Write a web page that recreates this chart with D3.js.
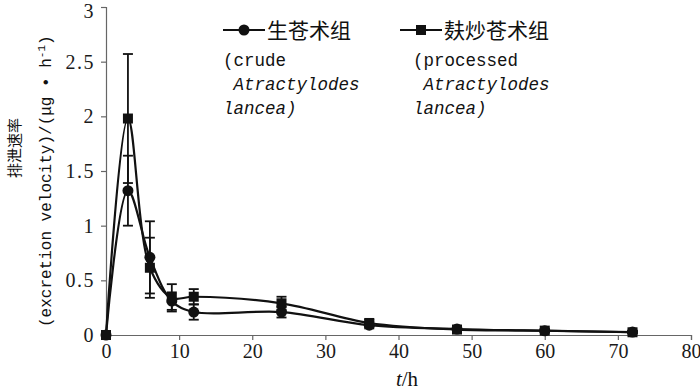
<!DOCTYPE html>
<html>
<head>
<meta charset="utf-8">
<script src="https://cdn.jsdelivr.net/npm/d3@7"></script>
<style>
  body { margin: 0; background: #fff; }
  svg { display: block; }
</style>
</head>
<body>
<script>
// sampling times (h)
const times = [0, 3, 6, 9, 12, 24, 36, 48, 60, 72];
// crude Atractylodes lancea group
const crude = [0, 1.32, 0.71, 0.31, 0.21, 0.21, 0.09, 0.055, 0.039, 0.027];
const crudeErr = [0, 0.32, 0.33, 0.08, 0.07, 0.05, 0.03, 0.01, 0.01, 0.01];
// bran-fried (processed) group
const processed = [0, 1.98, 0.615, 0.34, 0.35, 0.29, 0.11, 0.05, 0.04, 0.025];
const processedErr = [0, 0.59, 0.275, 0.125, 0.07, 0.06, 0.03, 0.01, 0.01, 0.01];

const xTicks = [0, 10, 20, 30, 40, 50, 60, 70, 80];
const yTicks = [0, 0.5, 1, 1.5, 2, 2.5, 3];

const W = 700, H = 391;
const margin = {top: 7, right: 9, bottom: 56, left: 106};
const width = W - margin.left - margin.right,
      height = H - margin.top - margin.bottom;

const svg = d3.select("body").append("svg")
  .attr("width", W)
  .attr("height", H);

const g = svg.append("g")
  .attr("transform", "translate(" + margin.left + "," + margin.top + ")");

const x = d3.scaleLinear().domain([0, 80]).range([0, width]);
const y = d3.scaleLinear().domain([0, 3]).range([height, 0]);

const ink = "#111";
const serif = "'Liberation Serif', 'DejaVu Serif', serif";
const mono = "'Liberation Mono', 'DejaVu Sans Mono', monospace";
const cjk = "'Noto Sans CJK SC', sans-serif";

// axes
const xAxis = g.append("g")
  .attr("transform", "translate(0," + height + ")")
  .call(d3.axisBottom(x).tickValues(xTicks).tickSize(5).tickPadding(4).tickFormat(d3.format("d")));
const yAxis = g.append("g")
  .call(d3.axisLeft(y).tickValues(yTicks).tickSize(5).tickPadding(6).tickFormat(d => String(d)));

[xAxis, yAxis].forEach(a => {
  a.select(".domain").attr("stroke", "#666").attr("stroke-width", 1.2);
  a.selectAll(".tick line").attr("stroke", "#666").attr("stroke-width", 1.2);
  a.selectAll("text").attr("fill", "#1a1a1a").style("font-family", serif).style("font-size", "20px");
});
yAxis.selectAll("text").style("letter-spacing", "1.5px");
// keep the top label inside the picture
yAxis.selectAll(".tick").filter(d => d === 3).select("text").attr("dy", "0.5em");

// series
const series = [
  {name: "生苍术组", sub: ["(crude", " Atractylodes", "lancea)"], values: crude, err: crudeErr, shape: "circle"},
  {name: "麸炒苍术组", sub: ["(processed", " Atractylodes", "lancea)"], values: processed, err: processedErr, shape: "square"}
];

const line = d3.line()
  .x(d => x(d.t))
  .y(d => y(d.v))
  .curve(d3.curveCatmullRom.alpha(0.5));

series.forEach(s => {
  const pts = times.map((t, i) => ({t: t, v: s.values[i], e: s.err[i]}));

  g.append("path")
    .datum(pts)
    .attr("fill", "none")
    .attr("stroke", ink)
    .attr("stroke-width", 2.2)
    .attr("d", line);

  const eb = g.append("g").selectAll("g")
    .data(pts.filter(d => d.e > 0))
    .enter().append("g");
  eb.append("line")
    .attr("x1", d => x(d.t)).attr("x2", d => x(d.t))
    .attr("y1", d => y(d.v + d.e)).attr("y2", d => y(d.v - d.e))
    .attr("stroke", ink).attr("stroke-width", 1.8);
  eb.append("line")
    .attr("x1", d => x(d.t) - 5).attr("x2", d => x(d.t) + 5)
    .attr("y1", d => y(d.v + d.e)).attr("y2", d => y(d.v + d.e))
    .attr("stroke", ink).attr("stroke-width", 1.8);
  eb.append("line")
    .attr("x1", d => x(d.t) - 5).attr("x2", d => x(d.t) + 5)
    .attr("y1", d => y(d.v - d.e)).attr("y2", d => y(d.v - d.e))
    .attr("stroke", ink).attr("stroke-width", 1.8);

  if (s.shape === "circle") {
    g.append("g").selectAll("circle")
      .data(pts).enter().append("circle")
      .attr("cx", d => x(d.t)).attr("cy", d => y(d.v))
      .attr("r", 5.5).attr("fill", ink);
  } else {
    g.append("g").selectAll("rect")
      .data(pts).enter().append("rect")
      .attr("x", d => x(d.t) - 5).attr("y", d => y(d.v) - 5)
      .attr("width", 10).attr("height", 10).attr("fill", ink);
  }
});

// legend
const legendX = [223, 400];
series.forEach((s, i) => {
  const lg = svg.append("g").attr("transform", "translate(" + legendX[i] + ",30)");
  lg.append("line").attr("x1", 0).attr("x2", 42).attr("y1", 0).attr("y2", 0)
    .attr("stroke", ink).attr("stroke-width", 2.2);
  if (s.shape === "circle") {
    lg.append("circle").attr("cx", 21).attr("cy", 0).attr("r", 5.5).attr("fill", ink);
  } else {
    lg.append("rect").attr("x", 16).attr("y", -5).attr("width", 10).attr("height", 10).attr("fill", ink);
  }
  lg.append("text")
    .attr("x", 44).attr("y", 7.5)
    .style("font-family", cjk).style("font-size", "21px").attr("fill", ink)
    .text(s.name);
  s.sub.forEach((t, j) => {
    lg.append("text")
      .attr("x", i === 0 ? 0 : 13).attr("y", 36 + j * 24)
      .style("font-family", mono).style("font-size", "17.5px")
      .style("font-style", j > 0 ? "italic" : "normal")
      .style("white-space", "pre")
      .attr("fill", ink)
      .text(t);
  });
});

// axis titles
const xt = svg.append("text")
  .attr("x", 407).attr("y", 386)
  .attr("text-anchor", "middle")
  .style("font-family", serif).style("font-size", "21px").attr("fill", ink);
xt.append("tspan").style("font-style", "italic").text("t");
xt.append("tspan").text("/h");

svg.append("text")
  .attr("transform", "translate(20,148) rotate(-90)")
  .attr("text-anchor", "middle")
  .style("font-family", cjk).style("font-size", "15px").attr("fill", ink)
  .text("排泄速率");

const yt = svg.append("text")
  .attr("transform", "translate(51,327) rotate(-90)")
  .attr("text-anchor", "start")
  .style("font-family", mono).style("font-size", "16px").attr("fill", ink);
yt.append("tspan").text("(excretion velocity)/(μg • h");
yt.append("tspan").attr("dy", -6).style("font-size", "11px").text("-1");
yt.append("tspan").attr("dy", 6).text(")");
</script>
</body>
</html>
